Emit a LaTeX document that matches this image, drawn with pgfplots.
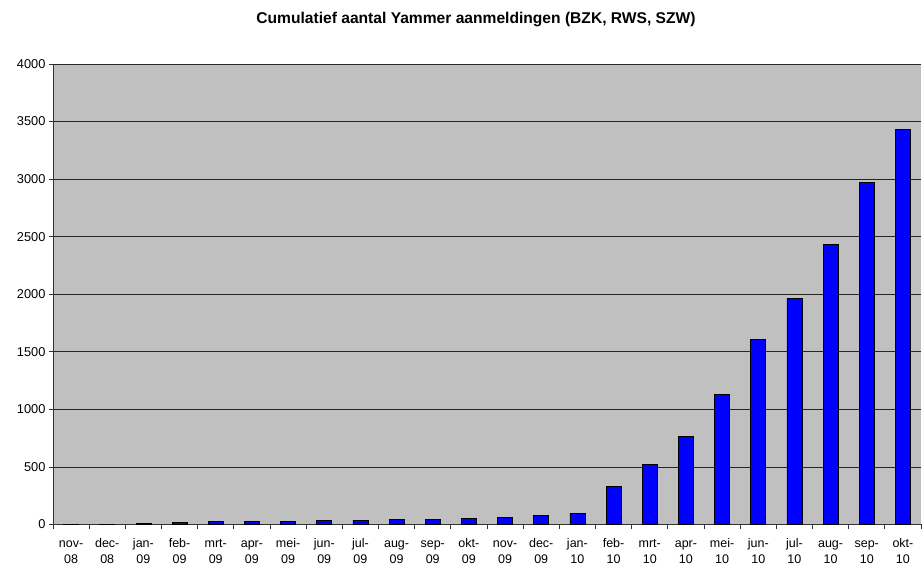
\documentclass[border=0pt]{standalone}
\usepackage{fontspec}
\setmainfont{Liberation Sans}
\usepackage{pgfplots}
\pgfplotsset{compat=1.18}
\definecolor{plotgray}{RGB}{192,192,192}
\definecolor{barblue}{RGB}{0,0,255}
\newcommand{\ml}[2]{\vphantom{dl}#1-\\#2}

\begin{document}
\begin{tikzpicture}[x=1pt,y=1pt]
\begin{axis}[
    at={(53pt,43.5pt)}, anchor=south west,
    scale only axis, width=868pt, height=460.5pt,
    ybar, bar width=15pt,
    xmin=-0.5, xmax=23.5, ymin=0, ymax=4000,
    xtick={0,...,23},
    minor xtick={-0.5,0.5,...,23.5},
    xticklabels={{\ml{nov}{08}},{\ml{dec}{08}},{\ml{jan}{09}},{\ml{feb}{09}},{\ml{mrt}{09}},{\ml{apr}{09}},{\ml{mei}{09}},{\ml{jun}{09}},{\ml{jul}{09}},{\ml{aug}{09}},{\ml{sep}{09}},{\ml{okt}{09}},
                 {\ml{nov}{09}},{\ml{dec}{09}},{\ml{jan}{10}},{\ml{feb}{10}},{\ml{mrt}{10}},{\ml{apr}{10}},{\ml{mei}{10}},{\ml{jun}{10}},{\ml{jul}{10}},{\ml{aug}{10}},{\ml{sep}{10}},{\ml{okt}{10}}},
    ytick={0,500,...,4000},
    axis x line*=bottom, axis y line*=left,
    axis line style={-, line width=0.9pt, black!80},
    axis background/.style={fill=plotgray},
    ymajorgrids, major grid style={black!85, line width=0.8pt},
    tick align=outside, major tick length=4pt, minor tick length=4pt,
    major x tick style={draw=none},
    minor x tick style={black!80, line width=0.7pt},
    y tick style={black!80, line width=0.7pt},
    xticklabel style={align=center, yshift=-6pt, font=\fontsize{12.5}{16}\selectfont},
    yticklabel style={font=\fontsize{12.8}{14}\selectfont},
    /pgf/number format/assume math mode=true,
    /pgf/number format/1000 sep={},
]
\addplot[fill=barblue, draw=black, line width=0.8pt] coordinates {
(0,2) (1,4) (2,7) (3,17) (4,23) (5,29) (6,29) (7,37) (8,37) (9,43) (10,45) (11,52)
(12,60) (13,78) (14,98) (15,330) (16,519) (17,762) (18,1130) (19,1605) (20,1965) (21,2435) (22,2974) (23,3432)};
\end{axis}
\node[anchor=base, font=\bfseries\fontsize{15.6}{18}\selectfont] at (476pt,544pt) {Cumulatief aantal Yammer aanmeldingen (BZK, RWS, SZW)};
\pgfresetboundingbox
\path (0,0) rectangle (922pt,568pt);
\end{tikzpicture}
\end{document}
